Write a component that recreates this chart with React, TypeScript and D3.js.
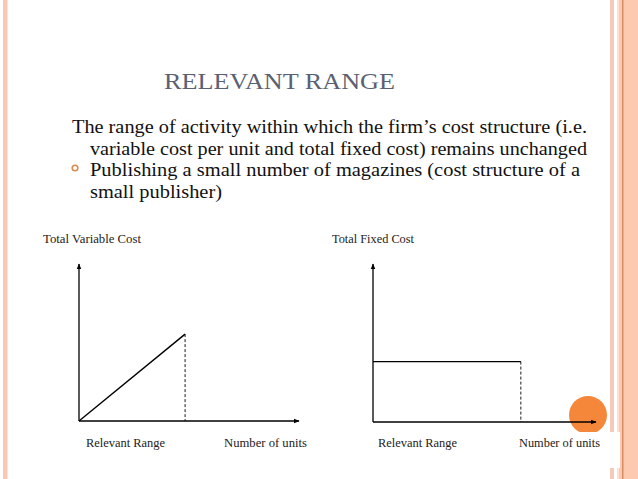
import React from "react";
import * as d3 from "d3";

// ---- data ----
const slideTitle = "RELEVANT RANGE";
const bodyLines = [
  "The range of activity within which the firm\u2019s cost structure (i.e.",
  "variable cost per unit and total fixed cost) remains unchanged",
  "Publishing a small number of magazines (cost structure of a",
  "small publisher)",
];
const chartTitles = ["Total Variable Cost", "Total Fixed Cost"];
const xLabels = ["Relevant Range", "Number of units"];
// total variable cost: rises linearly across relevant range
const tvcUnits = [0, 48];
const tvcCost = [0, 55];
// total fixed cost: constant across relevant range
const tfcUnits = [0, 66];
const tfcCost = [38, 38];

const W = 638;
const H = 479;

const serif = "Liberation Serif, Times New Roman, serif";

type ChartProps = {
  x0: number;
  x1: number;
  y0: number;
  y1: number;
  units: number[];
  cost: number[];
  title: string;
  titleX: number;
  titleW: number;
  rrX: number;
  rrW: number;
  nuX: number;
  nuW: number;
};

function CostChart(p: ChartProps) {
  const x = d3.scaleLinear().domain([0, 100]).range([p.x0, p.x1]);
  const y = d3.scaleLinear().domain([0, 100]).range([p.y0, p.y1]);
  const pts: [number, number][] = p.units.map((u, i) => [u, p.cost[i]]);
  const line = d3
    .line<[number, number]>()
    .x((d) => x(d[0]))
    .y((d) => y(d[1]));
  const endU = p.units[p.units.length - 1];
  const endC = p.cost[p.cost.length - 1];
  return (
    <g>
      <text
        x={p.titleX}
        y={243}
        fontFamily={serif}
        fontSize={11.5}
        fill="#222"
        textLength={p.titleW}
        lengthAdjust="spacingAndGlyphs"
      >
        {p.title}
      </text>
      <line
        x1={x(0)}
        y1={y(0)}
        x2={x(0)}
        y2={y(100) + 1}
        stroke="#000"
        strokeWidth={1.3}
        markerEnd="url(#arrow)"
      />
      <line
        x1={x(0)}
        y1={y(0)}
        x2={x(100) - 1}
        y2={y(0)}
        stroke="#000"
        strokeWidth={1.3}
        markerEnd="url(#arrow)"
      />
      <path d={line(pts) || ""} fill="none" stroke="#000" strokeWidth={1.4} />
      <line
        x1={x(endU)}
        y1={y(endC)}
        x2={x(endU)}
        y2={y(0)}
        stroke="#000"
        strokeWidth={0.9}
        strokeDasharray="3,2"
      />
      <text
        x={p.rrX}
        y={447}
        fontFamily={serif}
        fontSize={11.5}
        fill="#222"
        textLength={p.rrW}
        lengthAdjust="spacingAndGlyphs"
      >
        {xLabels[0]}
      </text>
      <text
        x={p.nuX}
        y={447}
        fontFamily={serif}
        fontSize={11.5}
        fill="#222"
        textLength={p.nuW}
        lengthAdjust="spacingAndGlyphs"
      >
        {xLabels[1]}
      </text>
    </g>
  );
}

export default function App() {
  const bodyX = [72, 90, 90, 90];
  const bodyY = [133, 155, 176, 198];
  const bodyW = [515, 497, 490, 132];
  return (
    <svg
      width={W}
      height={H}
      viewBox={`0 0 ${W} ${H}`}
      style={{ position: "absolute", left: 0, top: 0, display: "block" }}
    >
      <defs>
        <marker
          id="arrow"
          viewBox="0 0 10 10"
          refX={9}
          refY={5}
          markerWidth={6}
          markerHeight={6}
          markerUnits="userSpaceOnUse"
          orient="auto"
        >
          <path d="M0,1 L10,5 L0,9 Z" fill="#000" />
        </marker>
      </defs>
      <rect x={0} y={0} width={W} height={H} fill="#fff" />
      {/* left border stripe */}
      <rect x={3} y={0} width={4.5} height={H} fill="#f9c8b4" />
      {/* right border stripes */}
      <rect x={610} y={0} width={4} height={H} fill="#f2cbbb" />
      <rect x={617} y={0} width={1} height={H} fill="#f8e0d4" />
      <rect x={618.5} y={0} width={W - 618.5} height={H} fill="#fdc9b1" />
      <rect x={622} y={0} width={1.5} height={H} fill="#d98b62" />

      {/* title */}
      <text
        x={164}
        y={89}
        fontFamily={serif}
        fontSize={23}
        fill="#5a6172"
        textLength={231}
        lengthAdjust="spacingAndGlyphs"
      >
        {slideTitle}
      </text>

      {/* body text */}
      {bodyLines.map((t, i) => (
        <text
          key={i}
          x={bodyX[i]}
          y={bodyY[i]}
          fontFamily={serif}
          fontSize={18}
          fill="#111"
          textLength={bodyW[i]}
          lengthAdjust="spacingAndGlyphs"
        >
          {t}
        </text>
      ))}
      <circle cx={75} cy={168} r={2.8} fill="none" stroke="#d98c52" strokeWidth={1.6} />

      {/* orange decoration circle and white label box */}
      <circle cx={588} cy={415} r={19} fill="#f5873a" />
      <rect x={512} y={432} width={108} height={36} fill="#fff" />

      <CostChart
        x0={79}
        x1={300}
        y0={421}
        y1={263}
        units={tvcUnits}
        cost={tvcCost}
        title={chartTitles[0]}
        titleX={43}
        titleW={98}
        rrX={86}
        rrW={79}
        nuX={224}
        nuW={83}
      />
      <CostChart
        x0={373}
        x1={597}
        y0={422}
        y1={263}
        units={tfcUnits}
        cost={tfcCost}
        title={chartTitles[1]}
        titleX={332}
        titleW={82}
        rrX={378}
        rrW={79}
        nuX={519}
        nuW={81}
      />
    </svg>
  );
}
